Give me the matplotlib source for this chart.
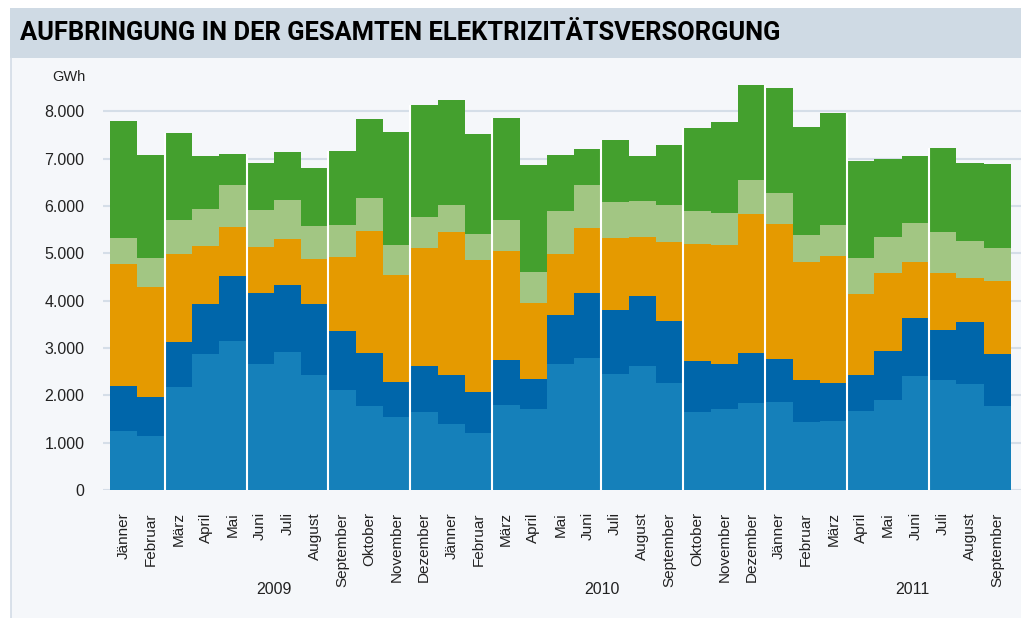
import numpy as np
import matplotlib
matplotlib.use("Agg")
import matplotlib.pyplot as plt
from matplotlib.patches import Rectangle

# monthly values in GWh, Jänner 2009 .. September 2011
months = ["Jänner", "Februar", "März", "April", "Mai", "Juni", "Juli",
          "August", "September", "Oktober", "November", "Dezember"]
labels = (months + months + months[:9])
years = ["2009", "2010", "2011"]
year_pos = [6.0, 18.0, 29.4]

lauf = [1246, 1141, 2176, 2873, 3148, 2662, 2915, 2429, 2113, 1775, 1542,
        1648, 1394, 1204, 1799, 1717, 2667, 2793, 2456, 2624, 2266, 1653,
        1717, 1843, 1865, 1442, 1463, 1675, 1907, 2413, 2329, 2245, 1780]
speicher = [951, 824, 951, 1056, 1373, 1500, 1416, 1500, 1246, 1119, 740,
            972, 1035, 866, 950, 633, 1034, 1372, 1350, 1478, 1308, 1077,
            950, 1056, 907, 887, 803, 759, 1034, 1225, 1055, 1308, 1098]
waerme = [2577, 2316, 1859, 1226, 1035, 972, 972, 951, 1563, 2578, 2260,
          2492, 3021, 2789, 2301, 1604, 1288, 1372, 1520, 1245, 1668, 2470,
          2511, 2934, 2850, 2491, 2680, 1710, 1646, 1182, 1203, 929, 1541]
sonstige = [550, 620, 718, 781, 887, 781, 824, 697, 676, 697, 634, 655,
            571, 549, 655, 655, 907, 908, 760, 760, 781, 696, 676, 718,
            654, 570, 655, 760, 760, 823, 866, 781, 696]
importe = [2472, 2176, 1838, 1120, 655, 993, 1014, 1226, 1564, 1669, 2387,
           2367, 2219, 2113, 2154, 2258, 1182, 760, 1309, 950, 1266, 1752,
           1921, 2005, 2216, 2279, 2364, 2048, 1647, 1414, 1773, 1646, 1773]
separators = [2, 5, 8, 11, 14, 18, 21, 24, 27, 30]

series = [lauf, speicher, waerme, sonstige, importe]
colors = ["#1580BA", "#0066AA", "#E59A00", "#A2C683", "#44A02E"]

plt.rcParams['font.family'] = ['Liberation Sans', 'DejaVu Sans']

fig = plt.figure(figsize=(10.21, 6.18), dpi=100)
W, H = 1021.0, 618.0

# panel background and title band
fig.patches.append(Rectangle((11 / W, 0), 1 - 11 / W, 1 - 58 / H,
                             transform=fig.transFigure, facecolor="#F5F7FA",
                             edgecolor="none", zorder=-10))
fig.patches.append(Rectangle((10 / W, 1 - 58 / H), 1 - 10 / W, 50 / H,
                             transform=fig.transFigure, facecolor="#CFDAE4",
                             edgecolor="none", zorder=-10))
fig.lines.append(plt.Line2D([11 / W, 11 / W], [0, 1 - 58 / H],
                            transform=fig.transFigure, color="#D3DCE6", lw=1.2,
                            zorder=-9))
fig.text(20 / W, 1 - 33 / H, "AUFBRINGUNG IN DER GESAMTEN ELEKTRIZITÄTSVERSORGUNG",
         fontsize=18.4, fontweight="bold", family=['Roboto', 'DejaVu Sans'],
         va="center", ha="left", color="black")

ymax = 8800
ppu = 27.3
ax = fig.add_axes([103 / W, (H - 490) / H, 1 - 103 / W, ymax * 0.04733 / H])
ax.set_facecolor("none")

x = np.arange(len(lauf)) + 0.5
bottom = np.zeros(len(lauf))
for vals, c in zip(series, colors):
    ax.bar(x, vals, width=1.0, bottom=bottom, color=c, linewidth=0, zorder=2)
    bottom += np.array(vals)

total = bottom
for s in separators:
    ax.vlines(s, 0, max(total[s - 1], total[s]), color="white", lw=1.5, zorder=3)

ax.set_xlim(-7 / ppu, 33 + 10 / ppu)
ax.set_ylim(0, ymax)
ax.set_yticks(range(0, 8001, 1000))
ax.set_yticklabels(["0"] + ["{:d}.000".format(v) for v in range(1, 9)])
ax.yaxis.grid(True, color="#D5DEE8", lw=1.5, zorder=0)
ax.set_axisbelow(True)
ax.tick_params(axis="y", length=0, pad=13.5, labelsize=11.5, labelcolor="#222222")
ax.set_xticks(x)
ax.set_xticklabels(labels, rotation=90, va="top", fontsize=11, color="#222222")
ax.tick_params(axis="x", length=0, pad=16)
for sp in ax.spines.values():
    sp.set_visible(False)

for yr, p in zip(years, year_pos):
    ax.text(p, -0.238, yr, transform=ax.get_xaxis_transform(), ha="center",
            va="center", fontsize=11.5, color="#222222")
fig.text(69 / W, 1 - 77 / H, "GWh", ha="center", va="center", fontsize=10.5,
         color="#222222")

fig.savefig("out.png", dpi=100)
